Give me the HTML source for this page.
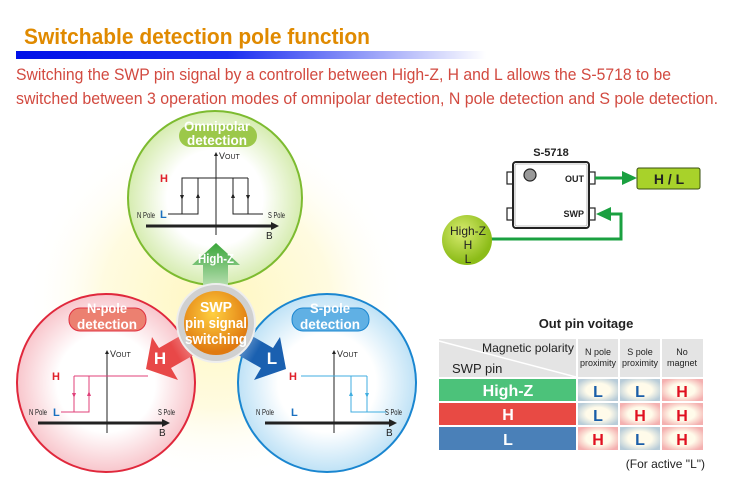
<!DOCTYPE html>
<html><head><meta charset="utf-8"><style>
html,body{margin:0;padding:0;background:#fff;width:739px;height:500px;overflow:hidden}
svg{display:block;font-family:"Liberation Sans",sans-serif}
</style></head><body>
<svg width="739" height="500" viewBox="0 0 739 500" xmlns="http://www.w3.org/2000/svg">
<defs>
<linearGradient id="bar" x1="0" x2="1"><stop offset="0" stop-color="#0010e8"/><stop offset="0.45" stop-color="#1a2cf0"/><stop offset="1" stop-color="#fff"/></linearGradient>
<radialGradient id="glow" cx="0.5" cy="0.5" r="0.5"><stop offset="0" stop-color="#fff7c0"/><stop offset="0.6" stop-color="#fffbe0"/><stop offset="1" stop-color="#fff" stop-opacity="0"/></radialGradient>
<radialGradient id="gC" cx="0.5" cy="0.5" r="0.5"><stop offset="0.55" stop-color="#fff"/><stop offset="1" stop-color="#d6ecb0"/></radialGradient>
<radialGradient id="rC" cx="0.5" cy="0.5" r="0.5"><stop offset="0.55" stop-color="#fff"/><stop offset="1" stop-color="#f8c6cc"/></radialGradient>
<radialGradient id="bC" cx="0.5" cy="0.5" r="0.5"><stop offset="0.55" stop-color="#fff"/><stop offset="1" stop-color="#bfe2f6"/></radialGradient>
<radialGradient id="oC" cx="0.45" cy="0.35" r="0.6"><stop offset="0" stop-color="#ffd040"/><stop offset="1" stop-color="#e07a10"/></radialGradient>
<radialGradient id="hz" cx="0.4" cy="0.35" r="0.6"><stop offset="0" stop-color="#d8ec70"/><stop offset="1" stop-color="#8cbc18"/></radialGradient>
<linearGradient id="ga" x1="0" y1="1" x2="0" y2="0"><stop offset="0" stop-color="#c8e6c0"/><stop offset="1" stop-color="#3aa63a"/></linearGradient>
<linearGradient id="ra" x1="1" y1="0" x2="0" y2="0.5"><stop offset="0" stop-color="#f4c0c0"/><stop offset="0.6" stop-color="#e84848"/></linearGradient>
<linearGradient id="ba" x1="0" y1="0" x2="1" y2="0.5"><stop offset="0" stop-color="#c0d8ec"/><stop offset="0.6" stop-color="#1a60b0"/></linearGradient>
<radialGradient id="cl" cx="0.5" cy="0.5" r="0.6"><stop offset="0.5" stop-color="#fffbea"/><stop offset="1" stop-color="#b8ccd8"/></radialGradient>
<radialGradient id="ch" cx="0.5" cy="0.5" r="0.6"><stop offset="0.5" stop-color="#fffbea"/><stop offset="1" stop-color="#f4b0b0"/></radialGradient>
<marker id="ah" viewBox="0 0 10 10" refX="5" refY="5" markerWidth="4" markerHeight="4" orient="auto"><path d="M0,0L10,5L0,10z" fill="#222"/></marker>
</defs>

<text x="24" y="44" font-size="22" font-weight="bold" fill="#e08a00" textLength="346" lengthAdjust="spacingAndGlyphs">Switchable detection pole function</text>
<rect x="16" y="51" width="470" height="8" fill="url(#bar)"/>
<text x="16" y="80" font-size="17" fill="#d24a40" textLength="655" lengthAdjust="spacingAndGlyphs">Switching the SWP pin signal by a controller between High-Z, H and L allows the S-5718 to be</text>
<text x="16" y="104" font-size="17" fill="#d24a40" textLength="702" lengthAdjust="spacingAndGlyphs">switched between 3 operation modes of omnipolar detection, N pole detection and S pole detection.</text>

<ellipse cx="216" cy="300" rx="190" ry="180" fill="url(#glow)"/>

<circle cx="215" cy="198" r="87" fill="url(#gC)" stroke="#7dbb30" stroke-width="2"/>
<circle cx="106" cy="383" r="89" fill="url(#rC)" stroke="#e0283c" stroke-width="2"/>
<circle cx="327" cy="383" r="89" fill="url(#bC)" stroke="#1a86d0" stroke-width="2"/>

<rect x="179" y="125" width="78" height="22" rx="11" fill="#9cc84a"/>
<text x="217" y="131" font-size="14" font-weight="bold" fill="#fff" text-anchor="middle" textLength="66" lengthAdjust="spacingAndGlyphs">Omnipolar</text>
<text x="217" y="145" font-size="14" font-weight="bold" fill="#fff" text-anchor="middle" textLength="60" lengthAdjust="spacingAndGlyphs">detection</text>
<rect x="69" y="308" width="77" height="23" rx="11" fill="#ec8070" stroke="#e03040" stroke-width="1"/>
<text x="107" y="313" font-size="14" font-weight="bold" fill="#fff" text-anchor="middle" textLength="40" lengthAdjust="spacingAndGlyphs">N-pole</text>
<text x="107" y="329" font-size="14" font-weight="bold" fill="#fff" text-anchor="middle" textLength="60" lengthAdjust="spacingAndGlyphs">detection</text>
<rect x="292" y="308" width="77" height="23" rx="11" fill="#60b0e4" stroke="#1a86d0" stroke-width="1"/>
<text x="330" y="313" font-size="14" font-weight="bold" fill="#fff" text-anchor="middle" textLength="40" lengthAdjust="spacingAndGlyphs">S-pole</text>
<text x="330" y="329" font-size="14" font-weight="bold" fill="#fff" text-anchor="middle" textLength="60" lengthAdjust="spacingAndGlyphs">detection</text>

<g stroke="#222" stroke-width="1" fill="none">
<line x1="216" y1="235" x2="216" y2="154" marker-end="url(#ah)"/>
<line x1="146" y1="226" x2="276" y2="226" stroke-width="3"/>
<polyline points="168,214 198,214 198,178 182,178 182,214"/>
<line x1="182" y1="178" x2="248" y2="178"/>
<polyline points="263,214 233,214 233,178"/>
<line x1="248" y1="178" x2="248" y2="214"/>
</g>
<path d="M271,222L279,226L271,230z" fill="#222"/>
<g fill="#222"><path d="M180,195h4l-2,5z"/><path d="M196,198h4l-2,-5z"/><path d="M231,198h4l-2,-5z"/><path d="M246,195h4l-2,5z"/></g>
<text x="219" y="159" font-size="9" fill="#222">V<tspan font-size="7">OUT</tspan></text>
<text x="160" y="182" font-size="11" font-weight="bold" fill="#e0202a">H</text>
<text x="160" y="218" font-size="11" font-weight="bold" fill="#1a70c0">L</text>
<text x="137" y="218" font-size="8" fill="#222" textLength="18" lengthAdjust="spacingAndGlyphs">N Pole</text>
<text x="268" y="218" font-size="8" fill="#222" textLength="17" lengthAdjust="spacingAndGlyphs">S Pole</text>
<text x="266" y="239" font-size="10" fill="#222">B</text>

<g stroke="#222" stroke-width="1" fill="none">
<line x1="107" y1="433" x2="107" y2="352" marker-end="url(#ah)"/>
<line x1="38" y1="423" x2="165" y2="423" stroke-width="3"/>
</g>
<path d="M162,419L170,423L162,427z" fill="#222"/>
<g stroke="#e0407a" stroke-width="1" fill="none">
<line x1="74" y1="376" x2="148" y2="376"/>
<polyline points="61,412 89,412 89,376"/>
<line x1="74" y1="376" x2="74" y2="412"/>
</g>
<g fill="#e0407a"><path d="M72,393h4l-2,5z"/><path d="M87,396h4l-2,-5z"/></g>
<text x="110" y="357" font-size="9" fill="#222">V<tspan font-size="7">OUT</tspan></text>
<text x="52" y="380" font-size="11" font-weight="bold" fill="#e0202a">H</text>
<text x="53" y="416" font-size="11" font-weight="bold" fill="#1a70c0">L</text>
<text x="29" y="415" font-size="8" fill="#222" textLength="18" lengthAdjust="spacingAndGlyphs">N Pole</text>
<text x="158" y="415" font-size="8" fill="#222" textLength="17" lengthAdjust="spacingAndGlyphs">S Pole</text>
<text x="159" y="436" font-size="10" fill="#222">B</text>

<g stroke="#222" stroke-width="1" fill="none">
<line x1="334" y1="433" x2="334" y2="352" marker-end="url(#ah)"/>
<line x1="265" y1="423" x2="392" y2="423" stroke-width="3"/>
</g>
<path d="M389,419L397,423L389,427z" fill="#222"/>
<g stroke="#40aee0" stroke-width="1" fill="none">
<line x1="301" y1="376" x2="367" y2="376"/>
<polyline points="351,376 351,412 387,412"/>
<line x1="367" y1="376" x2="367" y2="412"/>
</g>
<g fill="#40aee0"><path d="M349,396h4l-2,-5z"/><path d="M365,393h4l-2,5z"/></g>
<text x="337" y="357" font-size="9" fill="#222">V<tspan font-size="7">OUT</tspan></text>
<text x="289" y="380" font-size="11" font-weight="bold" fill="#e0202a">H</text>
<text x="291" y="416" font-size="11" font-weight="bold" fill="#1a70c0">L</text>
<text x="256" y="415" font-size="8" fill="#222" textLength="18" lengthAdjust="spacingAndGlyphs">N Pole</text>
<text x="385" y="415" font-size="8" fill="#222" textLength="17" lengthAdjust="spacingAndGlyphs">S Pole</text>
<text x="386" y="436" font-size="10" fill="#222">B</text>

<path d="M203,292V265H192L216,243L240,265H228V292z" fill="url(#ga)"/>
<text x="216" y="263" font-size="13" font-weight="bold" fill="#fff" text-anchor="middle" textLength="36" lengthAdjust="spacingAndGlyphs">High-Z</text>
<path d="M206,348L171,368L178,380L146,369L152,337L159,348L194,328z" fill="url(#ra)"/>
<text x="160" y="364" font-size="17" font-weight="bold" fill="#fff" text-anchor="middle">H</text>
<path d="M226,348L261,368L254,380L286,369L280,337L273,348L238,328z" fill="url(#ba)"/>
<text x="272" y="364" font-size="17" font-weight="bold" fill="#fff" text-anchor="middle">L</text>

<circle cx="216" cy="323" r="39" fill="#d0d0d0" stroke="#eee" stroke-width="2"/>
<circle cx="216" cy="323" r="32" fill="url(#oC)"/>
<text x="216" y="312" font-size="15" font-weight="bold" fill="#fff" text-anchor="middle" textLength="32" lengthAdjust="spacingAndGlyphs">SWP</text>
<text x="216" y="328" font-size="15" font-weight="bold" fill="#fff" text-anchor="middle" textLength="62" lengthAdjust="spacingAndGlyphs">pin signal</text>
<text x="216" y="344" font-size="15" font-weight="bold" fill="#fff" text-anchor="middle" textLength="62" lengthAdjust="spacingAndGlyphs">switching</text>

<text x="551" y="156" font-size="11" font-weight="bold" fill="#222" text-anchor="middle">S-5718</text>
<g fill="#fff" stroke="#222" stroke-width="1.2">
<rect x="507" y="172" width="6" height="12"/><rect x="507" y="208" width="6" height="12"/>
<rect x="589" y="172" width="6" height="12"/><rect x="589" y="208" width="6" height="12"/>
</g>
<rect x="513" y="162" width="76" height="66" rx="3" fill="#fff" stroke="#222" stroke-width="2"/>
<rect x="515" y="164" width="72" height="62" rx="2" fill="none" stroke="#888" stroke-width="0.6"/>
<circle cx="530" cy="175" r="6" fill="#999" stroke="#222" stroke-width="1.2"/>
<text x="584" y="182" font-size="9" font-weight="bold" fill="#222" text-anchor="end">OUT</text>
<text x="584" y="217" font-size="9" font-weight="bold" fill="#222" text-anchor="end">SWP</text>
<line x1="595" y1="178" x2="624" y2="178" stroke="#1aa040" stroke-width="3"/>
<path d="M622,171L637,178L622,185z" fill="#1aa040"/>
<rect x="637" y="168" width="63" height="21" rx="2" fill="#a8d22a" stroke="#3a5010" stroke-width="1"/>
<text x="669" y="184" font-size="14" font-weight="bold" fill="#222" text-anchor="middle">H / L</text>
<polyline points="491,239 621,239 621,214 609,214" fill="none" stroke="#1aa040" stroke-width="3"/>
<path d="M611,207L596,214L611,221z" fill="#1aa040"/>
<circle cx="467" cy="240" r="25" fill="url(#hz)"/>
<text x="468" y="235" font-size="12" fill="#222" text-anchor="middle">High-Z</text>
<text x="468" y="249" font-size="12" fill="#222" text-anchor="middle">H</text>
<text x="468" y="263" font-size="12" fill="#222" text-anchor="middle">L</text>

<text x="586" y="328" font-size="13" font-weight="bold" fill="#222" text-anchor="middle">Out pin voitage</text>
<rect x="439" y="339" width="137" height="38" fill="#e4e4e4"/>
<line x1="439" y1="341" x2="576" y2="377" stroke="#fff" stroke-width="1.5"/>
<text x="574" y="352" font-size="12" fill="#222" text-anchor="end" textLength="92" lengthAdjust="spacingAndGlyphs">Magnetic polarity</text>
<text x="452" y="373" font-size="13" fill="#222">SWP pin</text>
<rect x="578" y="339" width="40" height="38" fill="#e4e4e4"/>
<rect x="620" y="339" width="40" height="38" fill="#e4e4e4"/>
<rect x="662" y="339" width="41" height="38" fill="#e4e4e4"/>
<g font-size="9" fill="#222" text-anchor="middle">
<text x="598" y="355">N pole</text><text x="598" y="366">proximity</text>
<text x="640" y="355">S pole</text><text x="640" y="366">proximity</text>
<text x="682" y="355">No</text><text x="682" y="366">magnet</text>
</g>
<rect x="439" y="379" width="137" height="22" fill="#4cc27a"/>
<rect x="439" y="403" width="137" height="22" fill="#e84a44"/>
<rect x="439" y="427" width="137" height="23" fill="#4a80b8"/>
<g font-size="16" font-weight="bold" fill="#fff" text-anchor="middle">
<text x="508" y="396">High-Z</text><text x="508" y="420">H</text><text x="508" y="445">L</text>
</g>
<rect x="578" y="379" width="40" height="22" fill="url(#cl)"/><rect x="620" y="379" width="40" height="22" fill="url(#cl)"/><rect x="662" y="379" width="41" height="22" fill="url(#ch)"/>
<rect x="578" y="403" width="40" height="22" fill="url(#cl)"/><rect x="620" y="403" width="40" height="22" fill="url(#ch)"/><rect x="662" y="403" width="41" height="22" fill="url(#ch)"/>
<rect x="578" y="427" width="40" height="23" fill="url(#ch)"/><rect x="620" y="427" width="40" height="23" fill="url(#cl)"/><rect x="662" y="427" width="41" height="23" fill="url(#ch)"/>
<g font-size="16" font-weight="bold" text-anchor="middle">
<text x="598" y="397" fill="#1a5ea8">L</text><text x="640" y="397" fill="#1a5ea8">L</text><text x="682" y="397" fill="#e01020">H</text>
<text x="598" y="421" fill="#1a5ea8">L</text><text x="640" y="421" fill="#e01020">H</text><text x="682" y="421" fill="#e01020">H</text>
<text x="598" y="445" fill="#e01020">H</text><text x="640" y="445" fill="#1a5ea8">L</text><text x="682" y="445" fill="#e01020">H</text>
</g>
<text x="705" y="468" font-size="12" fill="#222" text-anchor="end">(For active "L")</text>
</svg>
</body></html>
